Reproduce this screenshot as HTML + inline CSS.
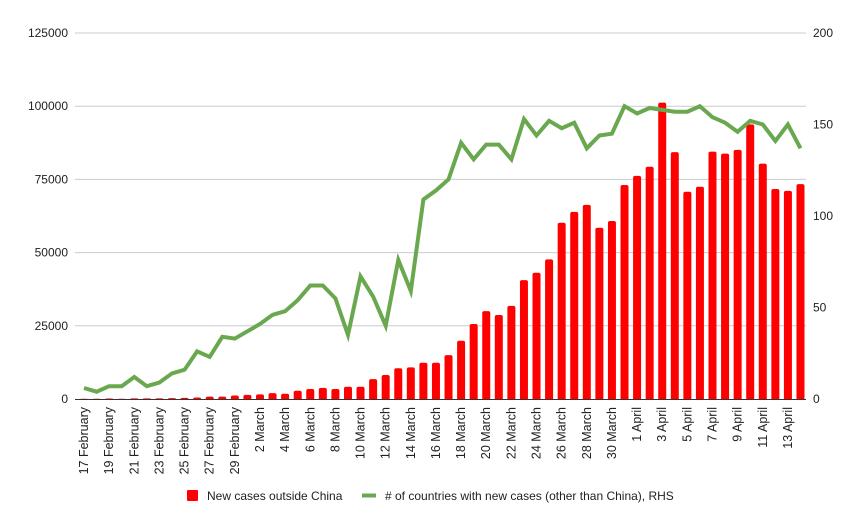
<!DOCTYPE html>
<html><head><meta charset="utf-8"><style>
body{margin:0;background:#fff;}
svg{display:block;font-family:"Liberation Sans",Arial,sans-serif;}
</style></head><body>
<svg id="chart" width="861" height="530" viewBox="0 0 861 530">
<g id="grid"></g>
<g id="bars"></g>
<g id="line"></g>
<g id="axes"></g>
<g>
<rect x="187" y="490" width="11" height="11" rx="1" fill="#ff0000"/>
<text x="207" y="500" font-size="12" fill="#222">New cases outside China</text>
<line x1="362" y1="495.5" x2="376" y2="495.5" stroke="#6aa84f" stroke-width="4"/>
<text x="385" y="500" font-size="12" fill="#222"># of countries with new cases (other than China), RHS</text>
</g>
</svg>
<script>
const cases=[100,100,150,100,200,200,200,300,400,500,800,800,1200,1400,1600,2000,1800,2800,3400,3800,3400,4200,4200,6800,8200,10500,10800,12400,12400,15000,19900,25600,30000,28700,31800,40600,43100,47700,60200,63900,66300,58500,60800,73100,76200,79300,101200,84300,70800,72500,84500,83800,85100,93800,80400,71700,71100,73400];
const countries=[6,4,7,7,12,7,9,14,16,26,23,34,33,37,41,46,48,54,62,62,55,35,67,56,40,76,59,109,114,120,140,131,139,139,131,153,144,152,148,151,137,144,145,160,156,159,158,157,157,160,154,151,146,152,150,141,150,137];
const leftTicks=[0,25000,50000,75000,100000,125000];
const rightTicks=[0,50,100,150,200];
const monthNames=["February","March","April"];
const NS="http://www.w3.org/2000/svg";
const X0=84,DX=12.57,Y0=399,YT=33;
function xs(i){return X0+i*DX;}
function yl(v){return Y0-(v/125000)*(Y0-YT);}
function yr(v){return Y0-(v/200)*(Y0-YT);}
function mk(tag,attrs,parent){const e=document.createElementNS(NS,tag);for(const k in attrs)e.setAttribute(k,attrs[k]);parent.appendChild(e);return e;}
function dateLabel(i){ if(i<13) return (17+i)+" "+monthNames[0]; if(i<44) return (i-12)+" "+monthNames[1]; return (i-43)+" "+monthNames[2]; }
const grid=document.getElementById('grid'),axes=document.getElementById('axes');
leftTicks.forEach((t,k)=>{
  if(t>0){const l=mk('line',{x1:75,x2:806,y1:yl(t),y2:yl(t),stroke:'#cccccc','stroke-width':1},grid);
  
  }
  const tx=mk('text',{x:68,y:yl(t)+4,'text-anchor':'end','font-size':12,fill:'#222'},axes);
  tx.textContent=t;
  
  
});
rightTicks.forEach(t=>{
  const tx=mk('text',{x:813,y:yr(t)+4,'font-size':12,fill:'#222'},axes);
  tx.textContent=t;
  
  
});
const bars=document.getElementById('bars');
cases.forEach((v,i)=>{
  const y=yl(v),h=Y0-y;
  const p=mk('path',{d:`M${xs(i)-4},${Y0} V${y+Math.min(2,h)} Q${xs(i)-4},${y} ${xs(i)-2},${y} H${xs(i)+2} Q${xs(i)+4},${y} ${xs(i)+4},${y+Math.min(2,h)} V${Y0} Z`,fill:'#ff0000'},bars);
  
  
});
const ax=mk('line',{x1:75,x2:806,y1:Y0+0.5,y2:Y0+0.5,stroke:'#333','stroke-width':1},axes);


const pts=countries.map((v,i)=>xs(i).toFixed(1)+','+yr(v).toFixed(1)).join(' ');
const pl=mk('polyline',{points:pts,fill:'none',stroke:'#6aa84f','stroke-width':4,'stroke-linejoin':'miter'},document.getElementById('line'));


for(let i=0;i<cases.length;i+=2){
  const x=xs(i)+4,y=407;
  const tx=mk('text',{x:x,y:y,transform:`rotate(-90 ${x} ${y})`,'text-anchor':'end','font-size':12.5,fill:'#222'},axes);
  tx.textContent=dateLabel(i);
  
  
}
</script>
</body></html>
